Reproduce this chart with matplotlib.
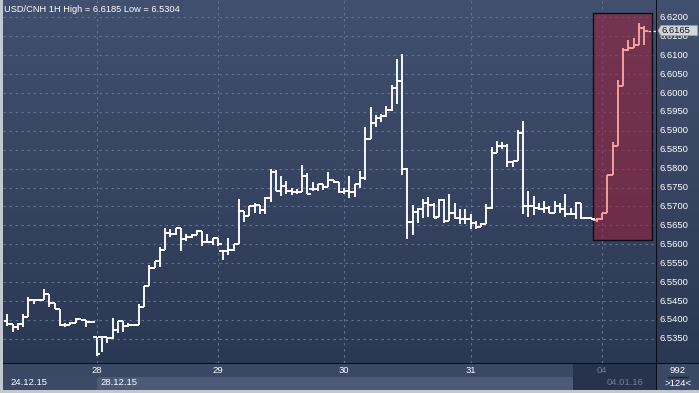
import numpy as np
import matplotlib
matplotlib.use("Agg")
import matplotlib.pyplot as plt
from matplotlib.patches import Rectangle, Polygon
from matplotlib.colors import LinearSegmentedColormap

plt.rcParams['font.family'] = ['Liberation Sans', 'DejaVu Sans']

# ---------------- data ----------------
title = "USD/CNH 1H High = 6.6185 Low = 6.5304"
opens = [6.5398, 6.5390, 6.5381, 6.5390, 6.5409, 6.5453, 6.5453, 6.5453, 6.5469,
         6.5445, 6.5429, 6.5387, 6.5387, 6.5391, 6.5403, 6.5400, 6.5394, 6.5356, 6.5356,
         6.5356, 6.5353, 6.5373, 6.5398, 6.5385, 6.5387, 6.5387, 6.5433, 6.5489, 6.5538,
         6.5557, 6.5585, 6.5631, 6.5628, 6.5644, 6.5613, 6.5620, 6.5624, 6.5634, 6.5607,
         6.5607, 6.5616, 6.5581, 6.5582, 6.5585, 6.5602, 6.5689, 6.5675, 6.5700, 6.5705,
         6.5691, 6.5723, 6.5792, 6.5742, 6.5755, 6.5742, 6.5738, 6.5738, 6.5780, 6.5745,
         6.5747, 6.5759, 6.5752, 6.5770, 6.5765, 6.5738, 6.5742, 6.5737, 6.5759, 6.5775,
         6.5879, 6.5921, 6.5933, 6.5940, 6.5956, 6.6012, 6.6032, 6.5798, 6.5659, 6.5686,
         6.5693, 6.5709, 6.5704, 6.5673, 6.5717, 6.5661, 6.5684, 6.5670, 6.5666, 6.5666,
         6.5655, 6.5647, 6.5653, 6.5696, 6.5842, 6.5860, 6.5861, 6.5817, 6.5819, 6.5893,
         6.5700, 6.5700, 6.5697, 6.5694, 6.5697, 6.5684, 6.5701, 6.5694, 6.5679, 6.5679,
         6.5709, 6.5670, 6.5670, 6.5664, 6.5666, 6.5682, 6.5782, 6.5860, 6.6019,
         6.6114, 6.6120, 6.6127, 6.6172]
highs = [6.5415, 6.5390, 6.5391, 6.5415, 6.5461, 6.5453, 6.5456, 6.5483, 6.5469,
         6.5445, 6.5429, 6.5391, 6.5394, 6.5406, 6.5403, 6.5400, 6.5394, 6.5356, 6.5356,
         6.5356, 6.5406, 6.5398, 6.5398, 6.5391, 6.5390, 6.5442, 6.5491, 6.5544, 6.5557,
         6.5594, 6.5644, 6.5640, 6.5644, 6.5644, 6.5628, 6.5626, 6.5638, 6.5634, 6.5626,
         6.5616, 6.5616, 6.5584, 6.5616, 6.5602, 6.5720, 6.5689, 6.5700, 6.5708, 6.5705,
         6.5724, 6.5799, 6.5797, 6.5781, 6.5768, 6.5750, 6.5746, 6.5809, 6.5788, 6.5766,
         6.5760, 6.5760, 6.5790, 6.5770, 6.5765, 6.5750, 6.5780, 6.5759, 6.5795, 6.5910,
         6.5963, 6.5942, 6.5945, 6.5967, 6.6021, 6.6090, 6.6103, 6.5801, 6.5703, 6.5697,
         6.5719, 6.5724, 6.5710, 6.5721, 6.5721, 6.5732, 6.5710, 6.5693, 6.5693, 6.5679,
         6.5661, 6.5657, 6.5706, 6.5857, 6.5872, 6.5870, 6.5866, 6.5819, 6.5901, 6.5925,
         6.5742, 6.5728, 6.5710, 6.5715, 6.5700, 6.5715, 6.5709, 6.5732, 6.5697, 6.5712,
         6.5709, 6.5673, 6.5670, 6.5670, 6.5684, 6.5782, 6.5871, 6.6034, 6.6120,
         6.6141, 6.6145, 6.6185, 6.6177]
lows = [6.5385, 6.5369, 6.5373, 6.5381, 6.5409, 6.5442, 6.5449, 6.5453, 6.5433,
        6.5429, 6.5385, 6.5381, 6.5387, 6.5391, 6.5399, 6.5381, 6.5394, 6.5304, 6.5316,
        6.5340, 6.5349, 6.5366, 6.5368, 6.5381, 6.5385, 6.5387, 6.5433, 6.5489, 6.5536,
        6.5540, 6.5585, 6.5618, 6.5624, 6.5582, 6.5609, 6.5617, 6.5624, 6.5595, 6.5604,
        6.5597, 6.5596, 6.5558, 6.5572, 6.5581, 6.5602, 6.5660, 6.5675, 6.5684, 6.5681,
        6.5681, 6.5713, 6.5742, 6.5728, 6.5733, 6.5731, 6.5734, 6.5738, 6.5732, 6.5740,
        6.5740, 6.5744, 6.5752, 6.5763, 6.5736, 6.5734, 6.5722, 6.5724, 6.5750, 6.5769,
        6.5879, 6.5910, 6.5924, 6.5936, 6.5953, 6.5972, 6.5782, 6.5613, 6.5625, 6.5657,
        6.5670, 6.5671, 6.5670, 6.5671, 6.5657, 6.5661, 6.5666, 6.5653, 6.5653, 6.5641,
        6.5641, 6.5647, 6.5653, 6.5693, 6.5842, 6.5853, 6.5804, 6.5804, 6.5819, 6.5679,
        6.5673, 6.5677, 6.5692, 6.5684, 6.5682, 6.5684, 6.5682, 6.5673, 6.5679, 6.5668,
        6.5666, 6.5666, 6.5664, 6.5660, 6.5664, 6.5682, 6.5782, 6.5860, 6.6019,
        6.6110, 6.6118, 6.6127, 6.6127]
closes = [6.5390, 6.5381, 6.5390, 6.5409, 6.5453, 6.5453, 6.5453, 6.5469, 6.5445,
          6.5429, 6.5387, 6.5387, 6.5391, 6.5403, 6.5400, 6.5394, 6.5394, 6.5309, 6.5356,
          6.5353, 6.5373, 6.5398, 6.5385, 6.5387, 6.5387, 6.5433, 6.5489, 6.5538, 6.5557,
          6.5585, 6.5631, 6.5628, 6.5644, 6.5613, 6.5620, 6.5624, 6.5634, 6.5607, 6.5607,
          6.5616, 6.5600, 6.5582, 6.5585, 6.5602, 6.5689, 6.5675, 6.5700, 6.5705, 6.5691,
          6.5723, 6.5792, 6.5742, 6.5755, 6.5742, 6.5738, 6.5738, 6.5780, 6.5732, 6.5747,
          6.5759, 6.5752, 6.5770, 6.5765, 6.5738, 6.5742, 6.5737, 6.5759, 6.5775, 6.5879,
          6.5921, 6.5933, 6.5940, 6.5956, 6.6012, 6.6032, 6.5798, 6.5659, 6.5686, 6.5693,
          6.5709, 6.5704, 6.5670, 6.5717, 6.5661, 6.5684, 6.5670, 6.5666, 6.5666, 6.5655,
          6.5647, 6.5653, 6.5696, 6.5842, 6.5860, 6.5861, 6.5817, 6.5819, 6.5893, 6.5700,
          6.5700, 6.5697, 6.5694, 6.5697, 6.5684, 6.5701, 6.5694, 6.5679, 6.5679, 6.5709,
          6.5670, 6.5670, 6.5666, 6.5666, 6.5682, 6.5782, 6.5860, 6.6019, 6.6114,
          6.6120, 6.6127, 6.6172, 6.6165]
highlight_start = 112          # first bar inside the red box
last_price = "6.6165"
price_ticks = [6.6200, 6.6150, 6.6100, 6.6050, 6.6000, 6.5950, 6.5900, 6.5850, 6.5800,
               6.5750, 6.5700, 6.5650, 6.5600, 6.5550, 6.5500, 6.5450, 6.5400, 6.5350]
day_pos = [17, 40, 64, 88, 113]          # first hourly bar of each day
day_labels = ["28", "29", "30", "31", "04"]
date_labels = ["24.12.15", "28.12.15", "04.01.16"]
corner_top, corner_bottom = "992", ">124<"

# ---------------- layout ----------------
W, H = 699, 393
fig = plt.figure(figsize=(W / 100, H / 100), dpi=100)
fig.patch.set_facecolor('#c3c7cf')

def px_axes(x0, y0, x1, y1):
    return fig.add_axes([x0 / W, 1 - y1 / H, (x1 - x0) / W, (y1 - y0) / H])

X0PX, DXPX = 7.3, 5.264          # pixel of first bar, pixels per bar
def px2i(px):
    return (px - X0PX) / DXPX

XMIN, XMAX = px2i(3), px2i(656)
YMIN, YMAX = 6.52861, 6.62460
PPX = 1 / 3761.0                 # price per pixel

ax = px_axes(3, 0, 656, 363)
axr = px_axes(656, 0, 699, 363)
axt = px_axes(3, 363, 656, 390)
axc = px_axes(656, 363, 699, 390)

grad = np.linspace(0, 1, 256).reshape(-1, 1)
cmap_bg = LinearSegmentedColormap.from_list('bg', ['#425070', '#2b3853'])
for a in (ax, axr):
    a.imshow(grad, extent=[0, 1, 0, 1], transform=a.transAxes, cmap=cmap_bg,
             aspect='auto', zorder=0, origin='upper')
for a in (ax, axr, axt, axc):
    a.set_xticks([]); a.set_yticks([])
    for s in a.spines.values():
        s.set_visible(False)

ax.set_xlim(XMIN, XMAX)
ax.set_ylim(YMIN, YMAX)
axr.set_xlim(0, 43)
axr.set_ylim(YMIN, YMAX)

grid_kw = dict(color='#617193', lw=0.8, linestyle=(0, (2.2, 3.2)), zorder=1)
for p in price_ticks:
    ax.axhline(p, **grid_kw)
for d in day_pos:
    ax.axvline(d, **grid_kw)

# red highlight box
bx0, bx1 = px2i(593), px2i(652)
ax.add_patch(Rectangle((bx0, 6.5611), bx1 - bx0, 6.6211 - 6.5611,
                       facecolor=(0.62, 0.12, 0.22, 0.55), edgecolor='#0d0d12',
                       lw=1.0, zorder=2))

# OHLC bars
idx = np.arange(len(opens))
cols = ['#ffffff' if i < highlight_start else '#f8a3a0' for i in idx]
tick = 0.7
ax.vlines(idx, lows, highs, colors=cols, lw=1.35, zorder=3)
ax.hlines(opens, idx - tick, idx, colors=cols, lw=1.35, zorder=3)
ax.hlines(closes, idx, idx + tick, colors=cols, lw=1.35, zorder=3)

# dashed line from last bar to price label
last = float(last_price)
ax.plot([idx[-1] + tick, XMAX], [last, last], color='#e8e8e8', lw=0.9,
        linestyle=(0, (2, 2)), zorder=3)

ax.text(1.5 / 653, 1 - 9 / 363, title, transform=ax.transAxes, color='white',
        fontsize=6.65, va='center', ha='left', zorder=5)

# right price axis
axr.axvline(0, color='#0b0b10', lw=1.4, zorder=3)
hb = 5.0 * PPX
for p in price_ticks:
    t = axr.text(3, p, f"{p:.4f}", color='white', fontsize=6.8,
                 va='center', ha='left', zorder=3)
    if abs(p - last) < 2 * hb:
        clip = Rectangle((0, YMIN), 43, (last - hb) - YMIN, transform=axr.transData)
        t.set_clip_path(clip)
# last price label box
axr.add_patch(Polygon([[2, last], [5, last + hb], [41.5, last + hb],
                       [41.5, last - hb], [5, last - hb]],
                      closed=True, facecolor='#d4d6da', edgecolor='#9a9ca2', lw=0.6, zorder=4))
axr.text(5.5, last, last_price, color='#15151a', fontsize=6.8, va='center',
         ha='left', zorder=5)

# bottom time axis
axt.set_xlim(XMIN, XMAX)
axt.set_ylim(0, 1)
dark0 = px2i(573)
axt.add_patch(Rectangle((XMIN, 0.5), XMAX - XMIN, 0.5, facecolor='#3a4866', lw=0, zorder=0))
axt.add_patch(Rectangle((XMIN, 0), day_pos[0] - XMIN, 0.5, facecolor='#3b4967', lw=0, zorder=0))
axt.add_patch(Rectangle((day_pos[0], 0), dark0 - day_pos[0], 0.5,
                        facecolor='#4c5a78', lw=0, zorder=0))
axt.add_patch(Rectangle((dark0, 0), XMAX - dark0, 1, facecolor='#27334d', lw=0, zorder=1))
axt.axhline(1, color='#0b0b10', lw=1.4, zorder=3)
for d, lab in zip(day_pos, day_labels):
    axt.text(d, 0.72, lab, color='#6f7c96' if lab == "04" else 'white',
             fontsize=6.8, ha='center', va='center', zorder=3)
date_x = [px2i(10), px2i(100), px2i(607)]
for d, lab in zip(date_x, date_labels):
    axt.text(d, 0.26, lab, color='#6f7c96' if lab == "04.01.16" else 'white',
             fontsize=6.8, ha='left', va='center', zorder=3)

# corner box
axc.set_xlim(0, 1); axc.set_ylim(0, 1)
axc.add_patch(Rectangle((0, 0), 1, 1, facecolor='#3a4866', lw=0))
axc.axvline(0, color='#0b0b10', lw=1.4)
axc.axhline(1, color='#0b0b10', lw=1.4)
axc.plot([0.28, 0.74], [0.5, 0.5], color='#1c2436', lw=1.0)
axc.text(0.51, 0.72, corner_top, color='white', fontsize=6.8, ha='center', va='center')
axc.text(0.51, 0.24, corner_bottom, color='white', fontsize=6.8, ha='center', va='center')

fig.savefig("out.png", dpi=100, facecolor=fig.get_facecolor())
